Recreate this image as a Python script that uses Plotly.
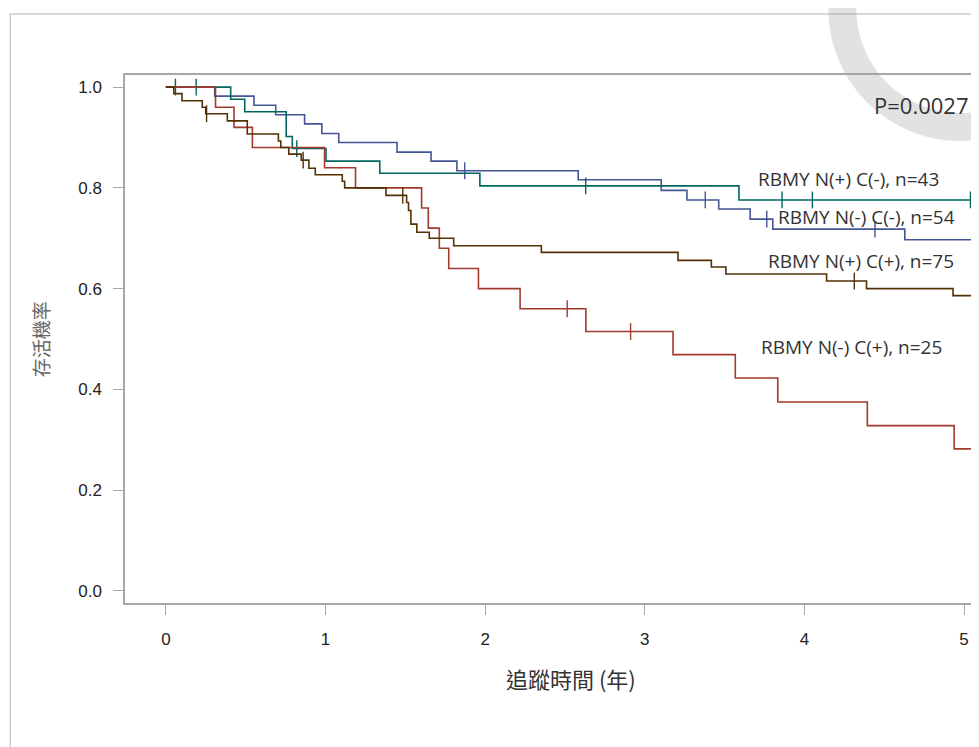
import plotly.graph_objects as go
import numpy as np

# ---- data ----
# N(-) C(-), n=54  (blue)
t_nc = [0, 0.306, 0.552, 0.688, 0.869, 0.977, 1.083, 1.448, 1.661, 1.823, 2.583, 3.103, 3.264, 3.463, 3.660, 3.802, 4.629, 5.10]
s_nc = [1.0, 0.982, 0.964, 0.945, 0.927, 0.908, 0.890, 0.871, 0.853, 0.834, 0.816, 0.795, 0.776, 0.758, 0.738, 0.718, 0.697, 0.697]
c_nc = [1.872, 3.379, 3.764, 4.442]

# N(+) C(-), n=43  (teal)
t_pc = [0, 0.406, 0.494, 0.754, 0.792, 1.003, 1.340, 1.967, 3.590, 5.10]
s_pc = [1.0, 0.976, 0.951, 0.902, 0.878, 0.853, 0.829, 0.804, 0.776, 0.776]
c_pc = [0.06, 0.19, 0.82, 2.63, 3.86, 4.05, 5.04]

# N(-) C(+), n=25  (red)
t_nm = [0, 0.311, 0.427, 0.542, 0.994, 1.188, 1.602, 1.644, 1.713, 1.772, 1.958, 2.219, 2.631, 3.177, 3.567, 3.833, 4.394, 4.938, 5.10]
s_nm = [1.0, 0.96, 0.92, 0.88, 0.84, 0.80, 0.76, 0.72, 0.68, 0.64, 0.60, 0.56, 0.515, 0.469, 0.4225, 0.375, 0.328, 0.282, 0.282]
c_nm = [2.514, 2.911]

# N(+) C(+), n=75  (brown)
t_pp = [0, 0.05, 0.101, 0.228, 0.25, 0.385, 0.51, 0.705, 0.72, 0.77, 0.848, 0.896, 0.936, 1.105, 1.12, 1.379, 1.508, 1.52, 1.535, 1.572, 1.65, 1.803, 2.352, 3.208, 3.417, 3.508, 4.139, 4.389, 4.931, 5.10]
s_pp = [1.0, 0.987, 0.973, 0.96, 0.947, 0.933, 0.907, 0.893, 0.88, 0.867, 0.855, 0.839, 0.826, 0.813, 0.80, 0.785, 0.771, 0.755, 0.728, 0.712, 0.70, 0.685, 0.672, 0.656, 0.643, 0.629, 0.615, 0.600, 0.586, 0.586]
c_pp = [0.255, 0.86, 1.484, 4.3125]

names = ["RBMY N(-) C(-), n=54", "RBMY N(+) C(-), n=43", "RBMY N(-) C(+), n=25", "RBMY N(+) C(+), n=75"]
colors = ["#445694", "#01665E", "#A23A2E", "#543005"]
series = [(t_nc, s_nc, c_nc), (t_pc, s_pc, c_pc), (t_nm, s_nm, c_nm), (t_pp, s_pp, c_pp)]

x_ticks = [0, 1, 2, 3, 4, 5]
y_ticks = [0.0, 0.2, 0.4, 0.6, 0.8, 1.0]
p_text = "P=0.0027"


def surv_at(t, s, x):
    idx = np.searchsorted(np.array(t), x, side="right") - 1
    return s[max(idx, 0)]


fig = go.Figure()
for (t, s, c), name, col in zip(series, names, colors):
    fig.add_trace(go.Scatter(x=t, y=s, mode="lines", line=dict(color=col, width=1.6, shape="hv"),
                             name=name, showlegend=False, hoverinfo="skip"))
    fig.add_trace(go.Scatter(x=c, y=[surv_at(t, s, v) for v in c], mode="markers",
                             marker=dict(symbol="line-ns-open", size=12, color=col,
                                         line=dict(color=col, width=1.4)),
                             showlegend=False, hoverinfo="skip"))

OFF = 8  # page offset of the plot div (body margin)
W, H = 979 - OFF, 747 - OFF
L, T = 125 - OFF, 75 - OFF
pw, ph = 850, 528
R, B = W - L - pw, H - T - ph


def px(xp):
    return (xp - OFF - L) / pw


def py(yp):
    return (T + ph - (yp - OFF)) / ph


gray = "#a8a8a8"
axis_common = dict(showgrid=False, zeroline=False, showline=True, linecolor=gray, linewidth=1.5,
                   mirror=True, ticks="outside", ticklen=10, tickcolor=gray, tickwidth=1.2,
                   tickfont=dict(family="Liberation Sans, Arial", size=17, color="#222"))

fig.update_layout(
    width=W, height=H,
    margin=dict(l=L, r=R, t=T, b=B),
    paper_bgcolor="white", plot_bgcolor="white",
    xaxis=dict(range=[-0.256, 5.056], tickvals=x_ticks, ticktext=[str(v) for v in x_ticks],
               ticklabelstandoff=10, **axis_common),
    yaxis=dict(range=[-0.024, 1.024], tickvals=y_ticks, ticktext=[f"{v:.1f}" for v in y_ticks],
               ticklabelstandoff=8, **axis_common),
)

lab_font = dict(family="Open Sans, Noto Sans", size=19, color="#333")
label_pos = [(4.39, 0.743), (4.275, 0.818), (4.294, 0.484), (4.356, 0.655)]
for name, (lx, ly) in zip(names, label_pos):
    fig.add_annotation(x=lx, y=ly, xref="x", yref="y", text=name, showarrow=False,
                       font=lab_font, xanchor="center", yanchor="middle")

fig.add_annotation(x=5.044, y=0.965, xref="x", yref="y", text=p_text, showarrow=False,
                   font=dict(family="Open Sans, Noto Sans", size=22, color="#333"),
                   xanchor="right", yanchor="middle")

cjk = "Noto Sans CJK TC"
fig.add_annotation(x=px(572), y=py(678), xref="paper", yref="paper", text="追蹤時間 (年)",
                   showarrow=False, font=dict(family=cjk, size=22, color="#333"),
                   xanchor="center", yanchor="middle")
fig.add_annotation(x=px(40), y=py(339), xref="paper", yref="paper", text="存活機率",
                   showarrow=False, textangle=-90, font=dict(family=cjk, size=19, color="#666"),
                   xanchor="center", yanchor="middle")

# outer frame of the graph image
fig.add_shape(type="rect", xref="paper", yref="paper", x0=px(10), y0=py(14), x1=px(1010), y1=py(800),
              line=dict(color="#cccccc", width=1.5), fillcolor="rgba(0,0,0,0)", layer="below")

# faint seal watermark ring at the top right
cx, cy, r = 962, 9, 118
fig.add_shape(type="circle", xref="paper", yref="paper", x0=px(cx - r), x1=px(cx + r),
              y0=py(cy + r), y1=py(cy - r), line=dict(color="rgba(160,160,160,0.3)", width=28),
              fillcolor="rgba(0,0,0,0)", layer="above")

fig.write_html("out.html")
